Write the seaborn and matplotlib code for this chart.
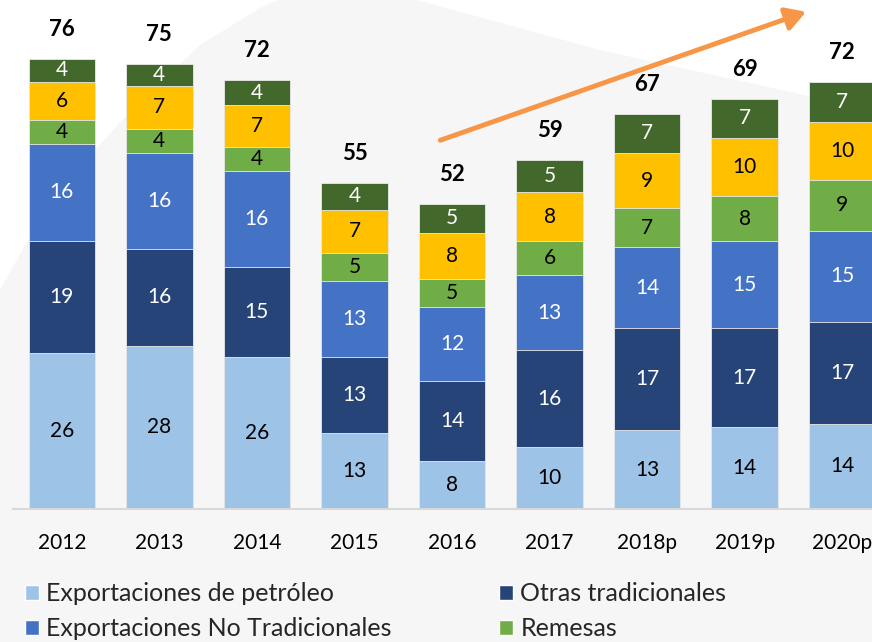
import pandas as pd
import matplotlib
matplotlib.use('Agg')
import matplotlib.pyplot as plt
from matplotlib.patches import Patch, Polygon
import seaborn as sns


# datos (miles de millones)
years = ['2012', '2013', '2014', '2015', '2016', '2017', '2018p', '2019p', '2020p']

petroleo = [26.4, 27.6, 25.7, 12.8, 8.1, 10.4, 13.3, 13.8, 14.4]
otras_trad = [18.9, 16.3, 15.2, 12.9, 13.6, 16.4, 17.2, 16.8, 17.2]
no_trad = [16.4, 16.2, 16.2, 12.8, 12.4, 12.7, 13.7, 14.6, 15.4]
remesas = [4.1, 4.1, 4.1, 4.7, 4.7, 5.7, 6.6, 7.6, 8.6]
serie_amarilla = [6.4, 7.3, 7.1, 7.4, 7.9, 8.4, 9.4, 9.9, 9.8]
serie_verde = [3.9, 3.7, 4.1, 4.4, 4.9, 5.4, 6.6, 6.6, 6.8]

series = ['Exportaciones de petróleo', 'Otras tradicionales',
          'Exportaciones No Tradicionales', 'Remesas',
          'serie_amarilla', 'serie_verde']
colores = ['#9DC3E6', '#264478', '#4472C4', '#70AD47', '#FFC000', '#43682B']
color_texto = ['black', 'white', 'white', 'black', 'black', 'white']

df = pd.DataFrame({
    'año': years,
    series[0]: petroleo,
    series[1]: otras_trad,
    series[2]: no_trad,
    series[3]: remesas,
    series[4]: serie_amarilla,
    series[5]: serie_verde,
})
acum = df[series].cumsum(axis=1)
total = acum[series[-1]]


sns.set_theme(style='white')
plt.rcParams['font.family'] = ['Lato', 'DejaVu Sans']

W, H = 872, 642
fig = plt.figure(figsize=(W / 100, H / 100), dpi=100)
fig.patch.set_facecolor('white')

# fondo gris con forma curva
fondo = [(0, 290), (28, 240), (95, 150), (125, 117), (200, 45), (260, 8),
         (300, -10), (350, -15), (417, 0), (600, 50), (872, 110),
         (880, 650), (0, 650)]
fig.add_artist(Polygon([(x / W, 1 - y / H) for x, y in fondo],
                       closed=True, transform=fig.transFigure,
                       facecolor='#f6f6f6', edgecolor='none', zorder=-1))

ax = fig.add_axes([13 / W, 133 / H, 878 / W, 509 / H])
ax.set_facecolor('none')

# barras apiladas: de la suma total hacia abajo
for s, c in reversed(list(zip(series, colores))):
    sns.barplot(x=df['año'], y=acum[s], color=c, saturation=1, width=0.68,
                errorbar=None, edgecolor='#e9e9e9', linewidth=0.6, ax=ax)

# etiquetas de cada segmento
for i in range(len(years)):
    base = 0
    for s, tc in zip(series, color_texto):
        v = df[s][i]
        ax.text(i, base + v / 2, f'{v:.0f}', ha='center', va='center',
                color=tc, fontsize=15)
        base += v
    ax.text(i, total[i] + 5.0, f'{total[i]:.0f}', ha='center', va='center',
            fontsize=16, fontweight='bold', color='black')

# flecha de tendencia
ax.annotate('', xy=(7.63, 84.0), xytext=(3.88, 62.3),
            arrowprops=dict(arrowstyle='-|>,head_length=0.6,head_width=0.35',
                            color='#F79646', lw=3.5, mutation_scale=20,
                            shrinkA=0, shrinkB=0))

ax.set_xlim(-0.5, 8.5)
ax.set_ylim(0, 86)
ax.set_yticks([])
ax.set_xlabel('')
ax.set_ylabel('')
for lado in ['top', 'left', 'right']:
    ax.spines[lado].set_visible(False)
ax.spines['bottom'].set_color('#d9d9d9')
ax.spines['bottom'].set_linewidth(1.5)
ax.tick_params(axis='x', length=0, pad=17, labelsize=15, labelcolor='black')

# leyenda (la tercera fila queda fuera de la imagen)
orden = [0, 2, 1, 3]
handles = [Patch(facecolor=colores[k], label=series[k]) for k in orden]
fig.legend(handles=handles, loc='upper left',
           bbox_to_anchor=(25 / W, 1 - 582 / H), ncol=2, frameon=False,
           fontsize=18, handlelength=0.55, handleheight=0.55,
           handletextpad=0.3, columnspacing=4.3, labelspacing=0.5,
           borderpad=0, borderaxespad=0)

fig.savefig('out.png', dpi=100)
